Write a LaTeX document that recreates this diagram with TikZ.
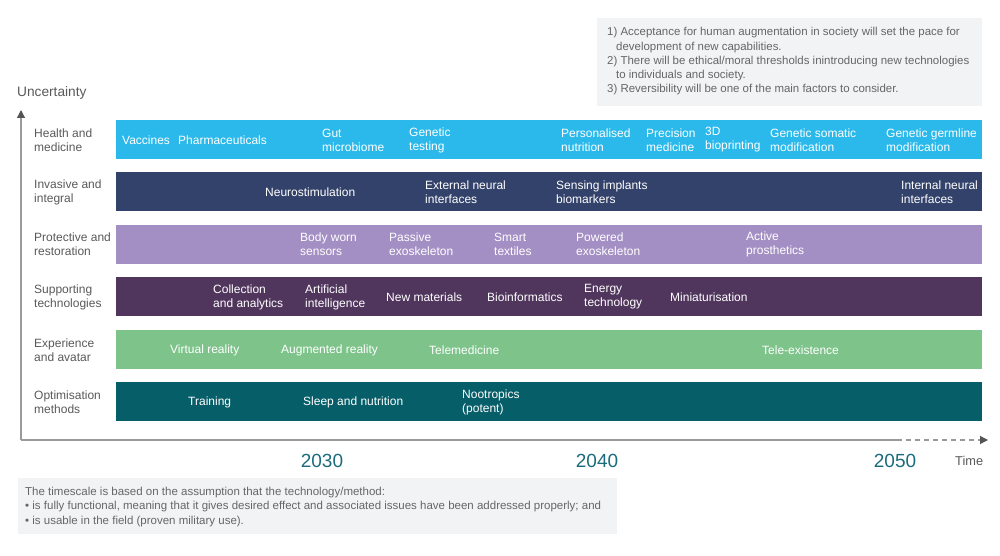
\documentclass[tikz,border=0pt]{standalone}
\usepackage{fontspec}
\setmainfont{Liberation Sans}
\usetikzlibrary{arrows.meta}
\definecolor{cHealth}{HTML}{2AB9EA}
\definecolor{cInvasive}{HTML}{33426A}
\definecolor{cProtect}{HTML}{A48FC4}
\definecolor{cSupport}{HTML}{50355D}
\definecolor{cExper}{HTML}{7DC38A}
\definecolor{cOptim}{HTML}{065E69}
\definecolor{cYear}{HTML}{1A6C7C}
\definecolor{cLabel}{HTML}{595959}
\definecolor{cAxis}{HTML}{9A9A9A}
\definecolor{cTip}{HTML}{555555}
\definecolor{cNote}{HTML}{F2F3F4}
\definecolor{cNoteText}{HTML}{666666}
\tikzset{
  band/.style={anchor=north west, inner sep=0, minimum width=866pt, minimum height=39pt},
  item/.style={anchor=west, inner sep=0, align=left, text=white, font=\fontsize{12}{14}\selectfont},
  rowlabel/.style={anchor=west, inner sep=0, align=left, text=cLabel, font=\fontsize{12}{14}\selectfont},
  year/.style={inner sep=0, text=cYear, font=\fontsize{19}{22}\selectfont},
  axisline/.style={draw=cAxis, line width=1.2pt},
  axistip/.style={-{Triangle[length=8pt,width=8pt,color=cTip]}},
  notebox/.style={anchor=north west, fill=cNote, inner sep=0},
  notetext/.style={anchor=north west, inner sep=0, align=left, text=cNoteText},
}
\begin{document}
\begin{tikzpicture}[x=1pt,y=-1pt]
\useasboundingbox (0,0) rectangle (1000,556);
% note boxes
\node[notebox, minimum width=385pt, minimum height=88pt] (notetop) at (597,18) {};
\node[notetext, font=\fontsize{11.45}{14.2}\selectfont] (notetoptext) at (607,27.5) {1) Acceptance for human augmentation in society will set the pace for\\
\hspace*{9pt}development of new capabilities.\\
2) There will be ethical/moral thresholds inintroducing new technologies\\
\hspace*{9pt}to individuals and society.\\
3) Reversibility will be one of the main factors to consider.};
\node[notebox, minimum width=599pt, minimum height=56pt] (notebot) at (18,478) {};
\node[notetext, font=\fontsize{11.5}{14.6}\selectfont] (notebottext) at (25,486.5) {The timescale is based on the assumption that the technology/method:\\
\textbullet{} is fully functional, meaning that it gives desired effect and associated issues have been addressed properly; and\\
\textbullet{} is usable in the field (proven military use).};
% axes
\coordinate (orig) at (21,440);
\coordinate (ytop) at (21,110);
\coordinate (xsolid) at (897,440);
\coordinate (xend) at (988,440);
\draw[axisline, axistip] (orig) -- (ytop);
\draw[axisline] (orig) -- (xsolid);
\draw[axisline, dash pattern=on 5pt off 4pt, axistip] (xsolid) -- (xend);
\node[anchor=west, inner sep=0, text=cLabel, font=\fontsize{13.7}{15}\selectfont] (unc) at (17,93) {Uncertainty};
\node[year] (y2030) at (322,461) {2030};
\node[year] (y2040) at (597,461) {2040};
\node[year] (y2050) at (895,461) {2050};
\node[anchor=west, inner sep=0, text=cLabel, font=\fontsize{12.8}{14}\selectfont] (time) at (955,461) {Time};
% bands
\node[band, fill=cHealth] (b1) at (116,120) {};
\node[band, fill=cInvasive] (b2) at (116,172) {};
\node[band, fill=cProtect] (b3) at (116,224.5) {};
\node[band, fill=cSupport] (b4) at (116,277) {};
\node[band, fill=cExper] (b5) at (116,330) {};
\node[band, fill=cOptim] (b6) at (116,382) {};
% row labels
\node[rowlabel] (l1) at (34,140) {Health and\\medicine};
\node[rowlabel] (l2) at (34,192.5) {Invasive and\\integral};
\node[rowlabel] (l3) at (34,244.5) {Protective and\\restoration};
\node[rowlabel] (l4) at (34,297) {Supporting\\technologies};
\node[rowlabel] (l5) at (34,350) {Experience\\and avatar};
\node[rowlabel] (l6) at (34,402) {Optimisation\\methods};
% row 1
\node[item] (vac) at (122,140) {Vaccines};
\node[item] (pha) at (178,140) {Pharmaceuticals};
\node[item] (gut) at (322,140) {Gut\\microbiome};
\node[item] (gen) at (409,140) {Genetic\\testing};
\node[item] (per) at (561,140) {Personalised\\nutrition};
\node[item] (pre) at (646,140) {Precision\\medicine};
\node[item] (bio) at (705,140) {3D\\bioprinting};
\node[item] (som) at (770,140) {Genetic somatic\\modification};
\node[item] (ger) at (886,140) {Genetic germline\\modification};
% row 2
\node[item] (neu) at (265,192) {Neurostimulation};
\node[item] (ext) at (425,192) {External neural\\interfaces};
\node[item] (sen) at (556,192) {Sensing implants\\biomarkers};
\node[item] (int) at (901,192) {Internal neural\\interfaces};
% row 3
\node[item] (bod) at (300,244.5) {Body worn\\sensors};
\node[item] (pas) at (389,244.5) {Passive\\exoskeleton};
\node[item] (sma) at (494,244.5) {Smart\\textiles};
\node[item] (pow) at (576,244.5) {Powered\\exoskeleton};
\node[item] (act) at (746,244.5) {Active\\prosthetics};
% row 4
\node[item] (col) at (213,297) {Collection\\and analytics};
\node[item] (art) at (305,297) {Artificial\\intelligence};
\node[item] (new) at (386,297) {New materials};
\node[item] (bif) at (487,297) {Bioinformatics};
\node[item] (ene) at (584,297) {Energy\\technology};
\node[item] (min) at (670,297) {Miniaturisation};
% row 5
\node[item] (vir) at (170,350) {Virtual reality};
\node[item] (aug) at (281,350) {Augmented reality};
\node[item] (tel) at (429,350) {Telemedicine};
\node[item] (tex) at (762,350) {Tele-existence};
% row 6
\node[item] (tra) at (188,402) {Training};
\node[item] (sle) at (303,402) {Sleep and nutrition};
\node[item] (noo) at (462,402) {Nootropics\\(potent)};
\end{tikzpicture}
\end{document}
